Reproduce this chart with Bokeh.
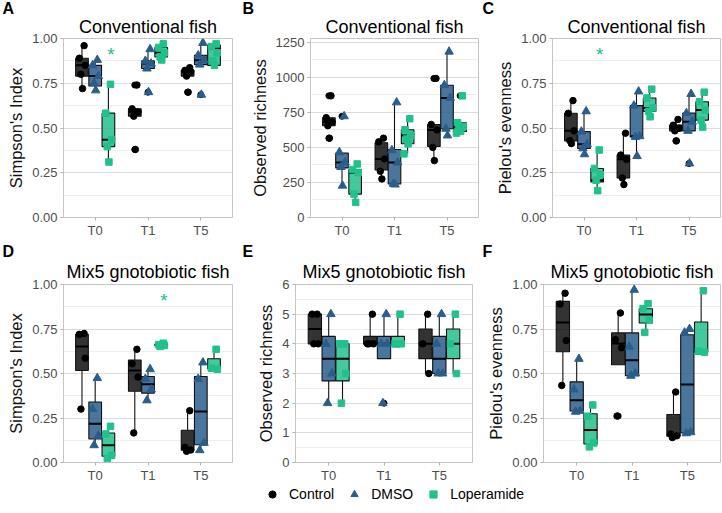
from bokeh.plotting import figure
from bokeh.layouts import column, row
from bokeh.models import Range1d, FixedTicker, Title, Legend, LegendItem, NumeralTickFormatter
from bokeh.core.properties import value
from bokeh.embed import file_html
from bokeh.resources import INLINE

TIMES = ["T0", "T1", "T5"]
GROUPS = ["Control", "DMSO", "Loperamide"]

# Each *_pts: values per time (T0, T1, T5); each *_box: (whisker low, q1, median, q3, whisker high) per time
# ---- A: Simpson's Index, conventional fish
A_ctrl_pts = [[0.96, 0.89, 0.85, 0.80, 0.72], [0.74, 0.607, 0.589, 0.566, 0.38], [0.837, 0.822, 0.815, 0.79, 0.70]]
A_ctrl_box = [(0.72, 0.79, 0.85, 0.89, 0.96), (0.566, 0.566, 0.589, 0.607, 0.607), (0.79, 0.79, 0.815, 0.822, 0.837)]
A_dmso_pts = [[0.88, 0.85, 0.79, 0.75, 0.71], [0.94, 0.875, 0.86, 0.832, 0.70], [0.975, 0.906, 0.878, 0.854, 0.686]]
A_dmso_box = [(0.71, 0.735, 0.79, 0.85, 0.88), (0.832, 0.832, 0.86, 0.875, 0.94), (0.854, 0.854, 0.878, 0.906, 0.975)]
A_lop_pts = [[0.744, 0.583, 0.435, 0.396, 0.31], [0.97, 0.95, 0.92, 0.897, 0.88], [0.97, 0.955, 0.92, 0.875, 0.85]]
A_lop_box = [(0.31, 0.396, 0.435, 0.583, 0.744), (0.88, 0.897, 0.92, 0.95, 0.97), (0.847, 0.85, 0.944, 0.963, 0.976)]
A_star_time = ["T0"]
A_star_y = [0.93]

# ---- B: Observed richness, conventional fish
B_ctrl_pts = [[868, 712, 681, 655, 566], [566, 540, 418, 330, 275], [992, 664, 625, 500, 406]]
B_ctrl_box = [(655, 655, 681, 712, 712), (275, 339, 418, 533, 566), (406, 507, 625, 664, 664)]
B_dmso_pts = [[722, 466, 392, 360, 227], [821, 480, 392, 240, 235], [1183, 944, 853, 633, 585]]
B_dmso_box = [(227, 354, 392, 459, 466), (235, 239, 392, 485, 821), (585, 633, 853, 944, 1183)]
B_lop_pts = [[382, 342, 320, 167, 108], [705, 626, 585, 560, 526, 454], [868, 676, 650, 640, 614, 602]]
B_lop_box = [(108, 167, 320, 342, 382), (454, 526, 585, 626, 705), (602, 614, 650, 676, 676)]
B_star_time = []
B_star_y = []

# ---- C: Pielou's evenness, conventional fish
C_ctrl_pts = [[0.653, 0.582, 0.484, 0.43, 0.413], [0.471, 0.349, 0.325, 0.221, 0.184], [0.548, 0.516, 0.499, 0.484, 0.428]]
C_ctrl_box = [(0.413, 0.428, 0.484, 0.582, 0.653), (0.184, 0.221, 0.325, 0.349, 0.471), (0.484, 0.484, 0.499, 0.516, 0.548)]
C_dmso_pts = [[0.593, 0.48, 0.409, 0.386, 0.353], [0.704, 0.625, 0.454, 0.45, 0.343], [0.69, 0.583, 0.535, 0.484, 0.302]]
C_dmso_box = [(0.353, 0.386, 0.409, 0.48, 0.593), (0.343, 0.45, 0.454, 0.625, 0.704), (0.484, 0.484, 0.535, 0.583, 0.69)]
C_lop_pts = [[0.377, 0.274, 0.24, 0.208, 0.15], [0.717, 0.668, 0.612, 0.593, 0.563], [0.70, 0.647, 0.60, 0.544, 0.505]]
C_lop_box = [(0.15, 0.199, 0.208, 0.274, 0.377), (0.563, 0.593, 0.612, 0.668, 0.717), (0.505, 0.544, 0.60, 0.647, 0.70)]
C_star_time = ["T0"]
C_star_y = [0.93]

# ---- D: Simpson's Index, Mix5 gnotobiotic fish
D_ctrl_pts = [[0.725, 0.72, 0.586, 0.30], [0.636, 0.555, 0.48, 0.166], [0.291, 0.085, 0.07, 0.063]]
D_ctrl_box = [(0.30, 0.517, 0.651, 0.72, 0.725), (0.166, 0.40, 0.517, 0.575, 0.636), (0.063, 0.069, 0.077, 0.181, 0.291)]
D_dmso_pts = [[0.474, 0.30, 0.15, 0.097], [0.524, 0.47, 0.41, 0.349], [0.562, 0.47, 0.11, 0.069]]
D_dmso_box = [(0.097, 0.132, 0.218, 0.34, 0.474), (0.349, 0.39, 0.44, 0.483, 0.524), (0.069, 0.10, 0.287, 0.483, 0.562)]
D_lop_pts = [[0.203, 0.16, 0.04, 0.022], [0.67, 0.662, 0.658, 0.652], [0.636, 0.53, 0.524]]
D_lop_box = [(0.022, 0.035, 0.097, 0.166, 0.203), (0.652, 0.656, 0.66, 0.664, 0.67), (0.524, 0.527, 0.53, 0.583, 0.636)]
D_star_time = ["T1"]
D_star_y = [0.927]

# ---- E: Observed richness, Mix5 gnotobiotic fish
E_ctrl_pts = [[5, 5, 4, 4], [5, 4, 4, 4], [5, 4, 3]]
E_ctrl_box = [(4, 4, 4.5, 5, 5), (4, 4, 4, 4.25, 5), (3, 3.5, 4, 4.5, 5)]
E_dmso_pts = [[5, 4, 3, 2], [5, 4, 4, 2], [5, 4, 3, 3]]
E_dmso_box = [(2, 2.75, 3.5, 4.25, 5), (3.5, 3.5, 4, 4.25, 5), (3, 3, 3.5, 4.25, 5)]
E_lop_pts = [[4, 4, 3, 2], [5, 4, 4, 4], [5, 4, 3]]
E_lop_box = [(2, 2.75, 3.5, 4, 4), (4, 4, 4, 4.25, 5), (3, 3.5, 4, 4.5, 5)]
E_star_time = []
E_star_y = []

# ---- F: Pielou's evenness, Mix5 gnotobiotic fish
F_ctrl_pts = [[0.951, 0.89, 0.685, 0.433], [0.84, 0.69, 0.645, 0.261], [0.396, 0.16, 0.15, 0.14]]
F_ctrl_box = [(0.433, 0.622, 0.787, 0.905, 0.951), (0.549, 0.549, 0.668, 0.728, 0.84), (0.14, 0.148, 0.158, 0.27, 0.396)]
F_dmso_pts = [[0.582, 0.41, 0.29, 0.285], [0.97, 0.65, 0.50, 0.487], [0.75, 0.73, 0.17, 0.164]]
F_dmso_box = [(0.285, 0.289, 0.35, 0.453, 0.582), (0.487, 0.487, 0.575, 0.728, 0.97), (0.164, 0.166, 0.438, 0.718, 0.75)]
F_lop_pts = [[0.323, 0.26, 0.11, 0.088], [0.892, 0.865, 0.80, 0.731], [0.965, 0.625, 0.619]]
F_lop_box = [(0.088, 0.104, 0.183, 0.274, 0.323), (0.731, 0.784, 0.832, 0.864, 0.892), (0.619, 0.619, 0.622, 0.789, 0.965)]
F_star_time = []
F_star_y = []

# ---- styles
FONT = "Liberation Sans"
PT_COLORS = ["#000000", "#2A5D8B", "#21C08D"]
BOX_ALPHA = [0.80, 0.85, 0.85]
MARKERS = ["circle", "triangle", "square"]
MSIZE = [6.5, 8.5, 6.5]
DODGE = [-0.25, 0.0, 0.25]
BW = 0.24
JIT = [0.04, -0.05, 0.06, -0.02, 0.01, -0.07]


def make_panel(letter, title, ylabel, pts, boxes, star_t, star_y, ymax, ticks, minor, fmt,
               width, height, left, right, top, bottom, letter_offset, title_standoff, letter_standoff):
    p = figure(width=width, height=height, output_backend="svg", toolbar_location=None,
               x_range=Range1d(0.4, 3.6), y_range=Range1d(0, ymax),
               min_border_left=left, min_border_right=right, min_border_top=top,
               min_border_bottom=bottom, title_location=None)
    p.background_fill_color = "white"
    p.border_fill_color = "white"
    p.outline_line_color = "#c4c4c4"
    p.outline_line_width = 1
    # main title (closest to the frame) and the panel letter (outermost)
    p.add_layout(Title(text=title, align="center", standoff=title_standoff, text_font=FONT,
                       text_font_size="18px", text_font_style="normal", text_color="#000000"), "above")
    p.add_layout(Title(text=letter, align="left", offset=letter_offset, standoff=letter_standoff,
                       text_font=FONT, text_font_size="16px", text_font_style="bold",
                       text_color="#000000"), "above")

    p.xaxis.ticker = FixedTicker(ticks=[1, 2, 3])
    p.xaxis.major_label_overrides = {i + 1: t for i, t in enumerate(TIMES)}
    p.yaxis.ticker = FixedTicker(ticks=ticks, minor_ticks=minor)
    if fmt:
        p.yaxis.formatter = NumeralTickFormatter(format=fmt)
    for ax in (p.xaxis[0], p.yaxis[0]):
        ax.axis_line_color = None
        ax.major_tick_line_color = "#b3b3b3"
        ax.major_tick_out = 3
        ax.major_tick_in = 0
        ax.minor_tick_line_color = None
        ax.major_label_text_font = FONT
        ax.major_label_text_font_size = "13px"
        ax.major_label_text_color = "#4d4d4d"
        ax.major_label_standoff = 2
    p.yaxis.axis_label = ylabel
    p.yaxis.axis_label_text_font = FONT
    p.yaxis.axis_label_text_font_size = "16.5px"
    p.yaxis.axis_label_text_font_style = "normal"
    p.yaxis.axis_label_text_color = "#111111"
    p.yaxis.axis_label_standoff = 4

    p.xgrid.grid_line_color = None
    p.ygrid.grid_line_color = "#dcdcdc"
    p.ygrid.grid_line_width = 1
    p.ygrid.minor_grid_line_color = "#efefef"
    p.ygrid.minor_grid_line_width = 1

    # boxplots
    ox, oy = [], []
    for g in range(3):
        xs = [i + 1 + DODGE[g] for i in range(3)]
        lo = [b[0] for b in boxes[g]]
        q1 = [b[1] for b in boxes[g]]
        md = [b[2] for b in boxes[g]]
        q3 = [b[3] for b in boxes[g]]
        hi = [b[4] for b in boxes[g]]
        p.segment(x0=xs, y0=lo, x1=xs, y1=q1, line_color="#111111", line_width=1.1)
        p.segment(x0=xs, y0=q3, x1=xs, y1=hi, line_color="#111111", line_width=1.1)
        p.vbar(x=xs, width=BW, bottom=q1, top=q3, fill_color=PT_COLORS[g],
               fill_alpha=BOX_ALPHA[g], line_color="#111111", line_width=1.1)
        p.segment(x0=[x - BW / 2 for x in xs], y0=md, x1=[x + BW / 2 for x in xs], y1=md,
                  line_color="#000000", line_width=2)
        for i in range(3):
            for v in pts[g][i]:
                if v < lo[i] or v > hi[i]:
                    ox.append(xs[i])
                    oy.append(v)
    if ox:
        p.scatter(x=ox, y=oy, marker="circle", size=6, color="#000000")
    # jittered points
    for g in range(3):
        px, py = [], []
        for i in range(3):
            for k, v in enumerate(pts[g][i]):
                px.append(i + 1 + DODGE[g] + JIT[k % len(JIT)])
                py.append(v)
        p.scatter(x=px, y=py, marker=MARKERS[g], size=MSIZE[g],
                  fill_color=PT_COLORS[g], line_color=PT_COLORS[g])
    # significance stars
    if star_t:
        sx = [TIMES.index(t) + 1 + DODGE[2] + 0.05 for t in star_t]
        p.text(x=sx, y=star_y, text=["*"] * len(sx), text_color=PT_COLORS[2],
               text_font=value(FONT), text_font_size="19px", text_align="center",
               text_baseline="alphabetic", y_offset=3)
    return p


TOP_H, BOT_H = 242, 243
pA = make_panel("A", "Conventional fish", "Simpson's Index",
                [A_ctrl_pts, A_dmso_pts, A_lop_pts], [A_ctrl_box, A_dmso_box, A_lop_box],
                A_star_time, A_star_y, 1.0, [0, 0.25, 0.5, 0.75, 1.0], [0.125, 0.375, 0.625, 0.875], "0.00",
                240, TOP_H, 63, 8, 38, 25, -61, 3, -7)
pB = make_panel("B", "Conventional fish", "Observed richness",
                [B_ctrl_pts, B_dmso_pts, B_lop_pts], [B_ctrl_box, B_dmso_box, B_lop_box],
                B_star_time, B_star_y, 1277, [0, 250, 500, 750, 1000, 1250], [125, 375, 625, 875, 1125], None,
                240, TOP_H, 70, 2, 38, 25, -68, 3, -7)
pC = make_panel("C", "Conventional fish", "Pielou's evenness",
                [C_ctrl_pts, C_dmso_pts, C_lop_pts], [C_ctrl_box, C_dmso_box, C_lop_box],
                C_star_time, C_star_y, 1.0, [0, 0.25, 0.5, 0.75, 1.0], [0.125, 0.375, 0.625, 0.875], "0.00",
                241, TOP_H, 72, 1, 38, 25, -70, 3, -7)
pD = make_panel("D", "Mix5 gnotobiotic fish", "Simpson's Index",
                [D_ctrl_pts, D_dmso_pts, D_lop_pts], [D_ctrl_box, D_dmso_box, D_lop_box],
                D_star_time, D_star_y, 1.0, [0, 0.25, 0.5, 0.75, 1.0], [0.125, 0.375, 0.625, 0.875], "0.00",
                240, BOT_H, 63, 8, 42, 22, -61, 5, -5)
pE = make_panel("E", "Mix5 gnotobiotic fish", "Observed richness",
                [E_ctrl_pts, E_dmso_pts, E_lop_pts], [E_ctrl_box, E_dmso_box, E_lop_box],
                E_star_time, E_star_y, 6.0, [0, 1, 2, 3, 4, 5, 6], [0.5, 1.5, 2.5, 3.5, 4.5, 5.5], None,
                240, BOT_H, 55, 8, 42, 22, -53, 5, -5)
pF = make_panel("F", "Mix5 gnotobiotic fish", "Pielou's evenness",
                [F_ctrl_pts, F_dmso_pts, F_lop_pts], [F_ctrl_box, F_dmso_box, F_lop_box],
                F_star_time, F_star_y, 1.0, [0, 0.25, 0.5, 0.75, 1.0], [0.125, 0.375, 0.625, 0.875], "0.00",
                241, BOT_H, 63, 1, 42, 22, -61, 5, -5)

# legend strip (anchor renderers sit outside the visible range; only their legend glyphs show)
lg = figure(width=721, height=26, output_backend="svg", toolbar_location=None,
            x_range=Range1d(0, 1), y_range=Range1d(0, 1), min_border=0,
            x_axis_location=None, y_axis_location=None)
lg.grid.visible = False
lg.outline_line_color = None
items = []
for g in range(3):
    r = lg.scatter(x=[5], y=[5], marker=MARKERS[g], size=MSIZE[g],
                   fill_color=PT_COLORS[g], line_color=PT_COLORS[g])
    items.append(LegendItem(label=GROUPS[g], renderers=[r]))
legend = Legend(items=items, orientation="horizontal", location=(263, 8),
                border_line_color=None, background_fill_alpha=0, padding=0, margin=0,
                spacing=11, label_standoff=8, glyph_width=18, glyph_height=18, label_height=18,
                label_text_font=FONT, label_text_font_size="14px", label_text_color="#000000")
lg.add_layout(legend)

layout = column(row(pA, pB, pC), row(pD, pE, pF), lg)
open("out.html", "w").write(file_html(layout, INLINE))
